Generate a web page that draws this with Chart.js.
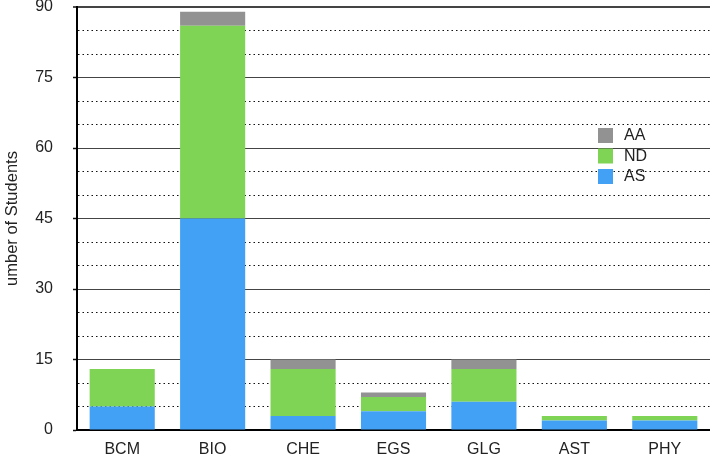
<!DOCTYPE html>
<html><head><meta charset="utf-8">
<script src="https://cdn.jsdelivr.net/npm/chart.js@4"></script>
<style>html,body{margin:0;padding:0;background:#fff}#wrap{width:710px;height:459px}</style>
</head><body><div id="wrap"><canvas id="c" width="710" height="459"></canvas></div>
<script>
const categories = ['BCM','BIO','CHE','EGS','GLG','AST','PHY'];
const valuesAS = [5, 45, 3, 4, 6, 2, 2];
const valuesND = [8, 41, 10, 3, 7, 1, 1];
const valuesAA = [0, 3, 2, 1, 2, 0, 0];
const yTicksMajor = [0, 15, 30, 45, 60, 75, 90];

const FONT = "'Liberation Sans', Arial, Helvetica, sans-serif";
const cBlue = 'rgb(66,160,245)', cGreen = 'rgb(128,212,85)', cGray = 'rgb(146,146,146)';

const legendPlugin = {
  id: 'customLegend',
  afterDraw(chart) {
    const ctx = chart.ctx;
    const ds = chart.data.datasets.slice().reverse();
    ctx.save();
    ctx.font = '16px ' + FONT;
    ctx.textBaseline = 'middle';
    ds.forEach((d, i) => {
      const y = 128 + i * 20.5;
      ctx.fillStyle = d.backgroundColor;
      ctx.fillRect(598, y, 15, 15);
      ctx.fillStyle = '#222';
      ctx.fillText(d.label, 624, y + 8);
    });
    ctx.restore();
  }
};

new Chart(document.getElementById('c'), {
  type: 'bar',
  data: {
    labels: categories,
    datasets: [
      {label: 'AS', data: valuesAS, backgroundColor: cBlue},
      {label: 'ND', data: valuesND, backgroundColor: cGreen},
      {label: 'AA', data: valuesAA, backgroundColor: cGray}
    ]
  },
  options: {
    responsive: false,
    animation: false,
    layout: {autoPadding: false, padding: {top: 7, right: 0, bottom: 0, left: 0}},
    plugins: {legend: {display: false}, tooltip: {enabled: false}},
    datasets: {bar: {categoryPercentage: 1, barPercentage: 0.72}},
    scales: {
      x: {
        stacked: true,
        grid: {display: false, drawTicks: false},
        border: {display: true, color: '#000', width: 2},
        ticks: {color: '#222', font: {family: FONT, size: 16}, padding: 10},
        afterFit(s) { s.height = 29; s.paddingLeft = 0; s.paddingRight = 0; }
      },
      y: {
        stacked: true,
        min: 0, max: 90,
        afterBuildTicks(s) {
          const t = [];
          for (let v = 0; v <= 90; v += 5) t.push({value: v});
          s.ticks = t;
        },
        ticks: {
          autoSkip: false,
          color: '#222',
          font: {family: FONT, size: 16},
          padding: 20,
          callback: (v) => yTicksMajor.includes(v) ? String(v) : ''
        },
        grid: {
          color: (c) => (c.tick && c.tick.value % 15 === 0) ? '#444' : '#111',
          lineWidth: (c) => (c.tick && c.tick.value === 90) ? 2 : 1,
          tickLength: 4,
          tickColor: (c) => (c.tick && c.tick.value % 15 === 0) ? '#111' : 'rgba(0,0,0,0)',
          tickWidth: 1.5
        },
        border: {
          display: true, color: '#000', width: 2,
          dash: (c) => (c.tick && c.tick.value % 15 !== 0) ? [1.5, 3] : []
        },
        title: {display: true, text: 'umber of Students', color: '#222', font: {family: FONT, size: 16.5}, padding: {top: 3, bottom: 0}},
        afterFit(s) { s.width = 77; s.paddingTop = 0; s.paddingBottom = 0; }
      }
    }
  },
  plugins: [legendPlugin]
});
</script></body></html>
